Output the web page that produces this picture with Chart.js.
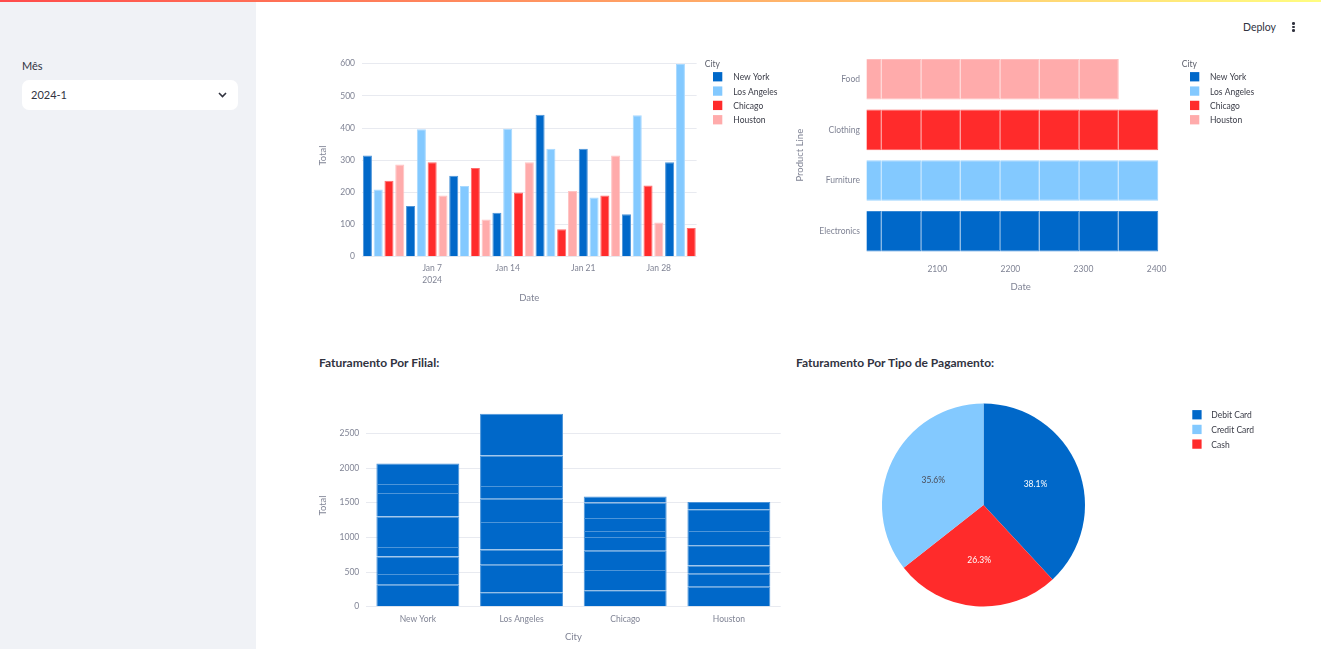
<!DOCTYPE html>
<html lang="pt">
<head>
<meta charset="utf-8">
<title>Faturamento</title>
<script src="https://cdn.jsdelivr.net/npm/chart.js@4.4.1/dist/chart.umd.min.js"></script>
<style>
  body { margin: 0; width: 1321px; height: 649px; overflow: hidden; background: #fff; font-family: Lato, sans-serif; color: #31333F; position: relative; }
  .deco { position: absolute; left: 0; top: 0; width: 100%; height: 2px; background: linear-gradient(90deg, rgb(255, 75, 75), rgb(255, 253, 128)); z-index: 2; }
  .sidebar { position: absolute; left: 0; top: 0; width: 256px; height: 649px; background: #f0f2f6; }
  .lbl { position: absolute; left: 22px; top: 59px; font-size: 11px; line-height: 14px; }
  .select { position: absolute; left: 22px; top: 80px; width: 216px; height: 30px; background: #fff; border-radius: 7px; }
  .select span { position: absolute; left: 9px; top: 8px; font-size: 11px; line-height: 14px; }
  .select svg { position: absolute; left: 196px; top: 12px; }
  .deploy { position: absolute; left: 1243px; top: 20px; font-size: 10.5px; line-height: 14px; }
  .dot { position: absolute; left: 1292px; width: 2.6px; height: 2.6px; border-radius: 50%; background: #31333F; }
  .h { position: absolute; top: 356px; font-weight: 700; font-size: 12px; line-height: 14px; }
  canvas { position: absolute; }
</style>
</head>
<body>
<div class="deco"></div>
<div class="sidebar">
  <div class="lbl">Mês</div>
  <div class="select"><span>2024-1</span>
    <svg width="9" height="6" viewBox="0 0 9 6"><polyline points="1,1 4.5,4.5 8,1" fill="none" stroke="#31333F" stroke-width="1.6"/></svg>
  </div>
</div>
<div class="deploy">Deploy</div>
<div class="dot" style="top:22px"></div>
<div class="dot" style="top:25.5px"></div>
<div class="dot" style="top:29px"></div>

<canvas id="daily" width="490" height="275" style="left:300px;top:40px"></canvas>
<canvas id="products" width="520" height="270" style="left:780px;top:40px"></canvas>
<div class="h" style="left:319px">Faturamento Por Filial:</div>
<canvas id="branches" width="490" height="269" style="left:300px;top:380px"></canvas>
<div class="h" style="left:796px">Faturamento Por Tipo de Pagamento:</div>
<canvas id="payments" width="520" height="260" style="left:790px;top:380px"></canvas>

<script>
const cities = ["New York", "Los Angeles", "Chicago", "Houston"]
const cityColors = ["#0068C9", "#83C9FF", "#FF2B2B", "#FFABAB"]
// product line sold by each city (same order as cities)
const productLines = ["Electronics", "Furniture", "Clothing", "Food"]

// one sale per day in January 2024
const saleDays = [1, 2, 3, 4, 5, 6, 7, 8, 9, 10, 11, 12, 13, 14, 15, 16, 17, 18, 19, 20, 21, 22, 23, 24, 25, 26, 27, 28, 29, 30, 31]
const saleCity = [
  "New York", "Los Angeles", "Chicago", "Houston", "New York", "Los Angeles", "Chicago", "Houston",
  "New York", "Los Angeles", "Chicago", "Houston", "New York", "Los Angeles", "Chicago", "Houston",
  "New York", "Los Angeles", "Chicago", "Houston", "New York", "Los Angeles", "Chicago", "Houston",
  "New York", "Los Angeles", "Chicago", "Houston", "New York", "Los Angeles", "Chicago"
]
const saleTotals = [315, 209, 236, 287, 158, 396, 294, 190, 252, 220, 276, 116, 137, 398, 200, 294,
  441, 336, 85, 204, 336, 184, 190, 315, 132, 440, 221, 106, 294, 599, 89]

const dateTicks = [7, 14, 21, 28]
const dateTickLabels = [["Jan 7", "2024"], "Jan 14", "Jan 21", "Jan 28"]
const totalTicks = [0, 100, 200, 300, 400, 500, 600]
const yearTicks = [2100, 2200, 2300, 2400]
const branchTicks = [0, 500, 1000, 1500, 2000, 2500]

const paymentTypes = ["Debit Card", "Credit Card", "Cash"]
const paymentTotals = [3030, 2832, 2092]
const paymentColors = ["#0068C9", "#83C9FF", "#FF2B2B"]

const tickColor = "#808495"
const gridColor = "#e8eaf0"
const tickFont = { family: "Lato", size: 8.5 }
const titleFont = { family: "Lato", size: 9.5 }

function tint(hex, t) {
  const n = parseInt(hex.slice(1), 16)
  const m = c => Math.round(c + (255 - c) * t)
  return "rgb(" + m(n >> 16) + "," + m((n >> 8) & 255) + "," + m(n & 255) + ")"
}

// plotly puts a date bar's length in ms since 1970 - here in years
const yearsSince1970 = d => Date.UTC(2024, 0, d) / 864e5 / 365.2425

// legend drawn at the spot plotly uses
const sideLegend = {
  id: "sideLegend",
  afterDraw(chart, args, o) {
    const ctx = chart.ctx
    const items = []
    chart.options.plugins.legend.labels.generateLabels(chart).forEach(it => {
      if (!items.some(e => e.text === it.text)) items.push(it)
    })
    if (o.order) items.sort((a, b) => o.order.indexOf(a.text) - o.order.indexOf(b.text))
    ctx.save()
    ctx.textBaseline = "middle"
    ctx.textAlign = "left"
    ctx.font = "8.5px Lato"
    if (o.title) {
      ctx.fillStyle = "#5c5f6b"
      ctx.fillText(o.title, o.titleX, o.titleY + 0.8)
    }
    items.forEach((it, i) => {
      const y = o.y + i * o.step
      ctx.fillStyle = it.fillStyle
      ctx.fillRect(o.x, y - 4.6, 9.3, 9.3)
      ctx.fillStyle = "#3a3c47"
      ctx.fillText(it.text, o.textX, y + 0.8)
    })
    ctx.restore()
  }
}

const sliceLabels = {
  id: "sliceLabels",
  afterDatasetsDraw(chart, args, o) {
    const ctx = chart.ctx
    const ds = chart.data.datasets[0]
    const total = ds.data.reduce((a, b) => a + b, 0)
    ctx.save()
    ctx.font = "8.5px Lato"
    ctx.textAlign = "center"
    ctx.textBaseline = "middle"
    chart.getDatasetMeta(0).data.forEach((arc, i) => {
      const p = arc.getProps(["x", "y", "startAngle", "endAngle", "outerRadius"])
      const a = (p.startAngle + p.endAngle) / 2
      const r = p.outerRadius * 0.55
      ctx.fillStyle = o.colors[chart.data.labels[i]] || "#fff"
      ctx.fillText((ds.data[i] / total * 100).toFixed(1) + "%", p.x + Math.cos(a) * r, p.y + Math.sin(a) * r)
    })
    ctx.restore()
  }
}

const base = {
  responsive: false,
  animation: false,
  devicePixelRatio: 1,
  events: []
}

new Chart(document.getElementById("daily"), {
  type: "bar",
  data: {
    labels: saleDays,
    datasets: cities.map((c, i) => ({
      label: c,
      data: saleTotals.map((v, k) => saleCity[k] === c ? v : null),
      backgroundColor: cityColors[i],
      borderColor: tint(cityColors[i], 0.3),
      borderWidth: 1,
      barPercentage: 0.84,
      categoryPercentage: 1
    }))
  },
  plugins: [sideLegend],
  options: {
    ...base,
    layout: { padding: { left: 12, top: 14.4, right: 93.4, bottom: 4 } },
    plugins: {
      legend: { display: false },
      tooltip: { enabled: false },
      sideLegend: { title: "City", titleX: 404.7, titleY: 23.3, x: 413, textX: 433.3, y: 36.7, step: 14.33 }
    },
    scales: {
      x: {
        stacked: true,
        grid: { display: false, drawTicks: false },
        border: { display: false },
        ticks: {
          autoSkip: false, maxRotation: 0, padding: 4.9, color: tickColor,
          font: { ...tickFont, lineHeight: 1.5 },
          callback: (v, i) => {
            const k = dateTicks.indexOf(saleDays[i])
            return k < 0 ? null : dateTickLabels[k]
          }
        },
        title: { display: true, text: "Date", color: tickColor, font: titleFont, padding: { top: 0, bottom: 7 } },
        afterFit: s => { s.height = 54.3 }
      },
      y: {
        stacked: true, min: 0, max: 629,
        afterBuildTicks: s => { s.ticks = totalTicks.map(v => ({ value: v })) },
        grid: { color: gridColor, drawTicks: false },
        border: { display: false },
        ticks: { padding: 7, color: tickColor, font: tickFont, callback: v => String(v) },
        title: { display: true, text: "Total", color: tickColor, font: titleFont, padding: { top: 4.8, bottom: 0 } },
        afterFit: s => { s.width = 50 }
      }
    }
  }
})

new Chart(document.getElementById("products"), {
  type: "bar",
  data: {
    labels: productLines,
    datasets: saleTotals.map((v, k) => {
      const ci = cities.indexOf(saleCity[k])
      return {
        label: saleCity[k],
        data: productLines.map((p, j) => j === ci ? yearsSince1970(saleDays[k]) : null),
        backgroundColor: cityColors[ci],
        borderColor: tint(cityColors[ci], 0.22),
        borderWidth: 1,
        barPercentage: 1,
        categoryPercentage: 0.8
      }
    })
  },
  plugins: [sideLegend],
  options: {
    ...base,
    indexAxis: "y",
    layout: { padding: { left: 10, top: 13.9, right: 125.3, bottom: 4 } },
    plugins: {
      legend: { display: false },
      tooltip: { enabled: false },
      sideLegend: { title: "City", titleX: 401.7, titleY: 23.3, x: 410, textX: 430, y: 36.7, step: 14.33 }
    },
    scales: {
      x: {
        stacked: true, min: 33.4, max: 454.8,
        afterBuildTicks: s => { s.ticks = yearTicks.map(y => ({ value: y - 1970 })) },
        grid: { display: false, drawTicks: false },
        border: { display: false },
        ticks: { padding: 7.4, color: tickColor, font: tickFont, maxRotation: 0, callback: v => String(Math.round(v + 1970)) },
        title: { display: true, text: "Date", color: tickColor, font: titleFont, padding: { top: 0, bottom: 13.6 } },
        afterFit: s => { s.height = 49.5 }
      },
      y: {
        stacked: true, reverse: true,
        grid: { display: false, drawTicks: false },
        border: { display: false },
        ticks: { padding: 6.7, color: tickColor, font: tickFont },
        title: { display: true, text: "Product Line", color: tickColor, font: titleFont, padding: { top: 4.3, bottom: 0 } },
        afterFit: s => { s.width = 76.7 }
      }
    }
  }
})

new Chart(document.getElementById("branches"), {
  type: "bar",
  data: {
    labels: cities,
    datasets: saleTotals.map((v, k) => ({
      label: saleCity[k],
      data: cities.map(c => c === saleCity[k] ? v : null),
      backgroundColor: "#0068C9",
      borderColor: tint("#0068C9", 0.3),
      borderWidth: 1,
      barPercentage: 1,
      categoryPercentage: 0.8
    }))
  },
  options: {
    ...base,
    layout: { padding: { left: 12, top: 24.3, right: 9.3, bottom: 2 } },
    plugins: { legend: { display: false }, tooltip: { enabled: false } },
    scales: {
      x: {
        stacked: true,
        grid: { display: false, drawTicks: false },
        border: { display: false },
        ticks: { padding: 7.5, color: tickColor, font: tickFont, maxRotation: 0 },
        title: { display: true, text: "City", color: tickColor, font: titleFont, padding: { top: 0, bottom: 4.6 } },
        afterFit: s => { s.height = 40.3 }
      },
      y: {
        stacked: true, min: 0, max: 2920,
        afterBuildTicks: s => { s.ticks = branchTicks.map(v => ({ value: v })) },
        grid: { color: gridColor, drawTicks: false },
        border: { display: false },
        ticks: { padding: 6.7, color: tickColor, font: tickFont, callback: v => String(v) },
        title: { display: true, text: "Total", color: tickColor, font: titleFont, padding: { top: 5, bottom: 0 } },
        afterFit: s => { s.width = 54 }
      }
    }
  }
})

// clockwise from 12 o'clock as in the picture
const pieOrder = [0, 2, 1]
new Chart(document.getElementById("payments"), {
  type: "pie",
  data: {
    labels: pieOrder.map(i => paymentTypes[i]),
    datasets: [{
      data: pieOrder.map(i => paymentTotals[i]),
      backgroundColor: pieOrder.map(i => paymentColors[i]),
      borderWidth: 0
    }]
  },
  plugins: [sideLegend, sliceLabels],
  options: {
    ...base,
    layout: { padding: { left: 92, right: 225, top: 23.5, bottom: 33.5 } },
    plugins: {
      legend: { display: false },
      tooltip: { enabled: false },
      sideLegend: { x: 402.3, textX: 421.3, y: 34.7, step: 14.67, order: paymentTypes },
      sliceLabels: { colors: { "Credit Card": "#4a4c57" } }
    }
  }
})
</script>
</body>
</html>
